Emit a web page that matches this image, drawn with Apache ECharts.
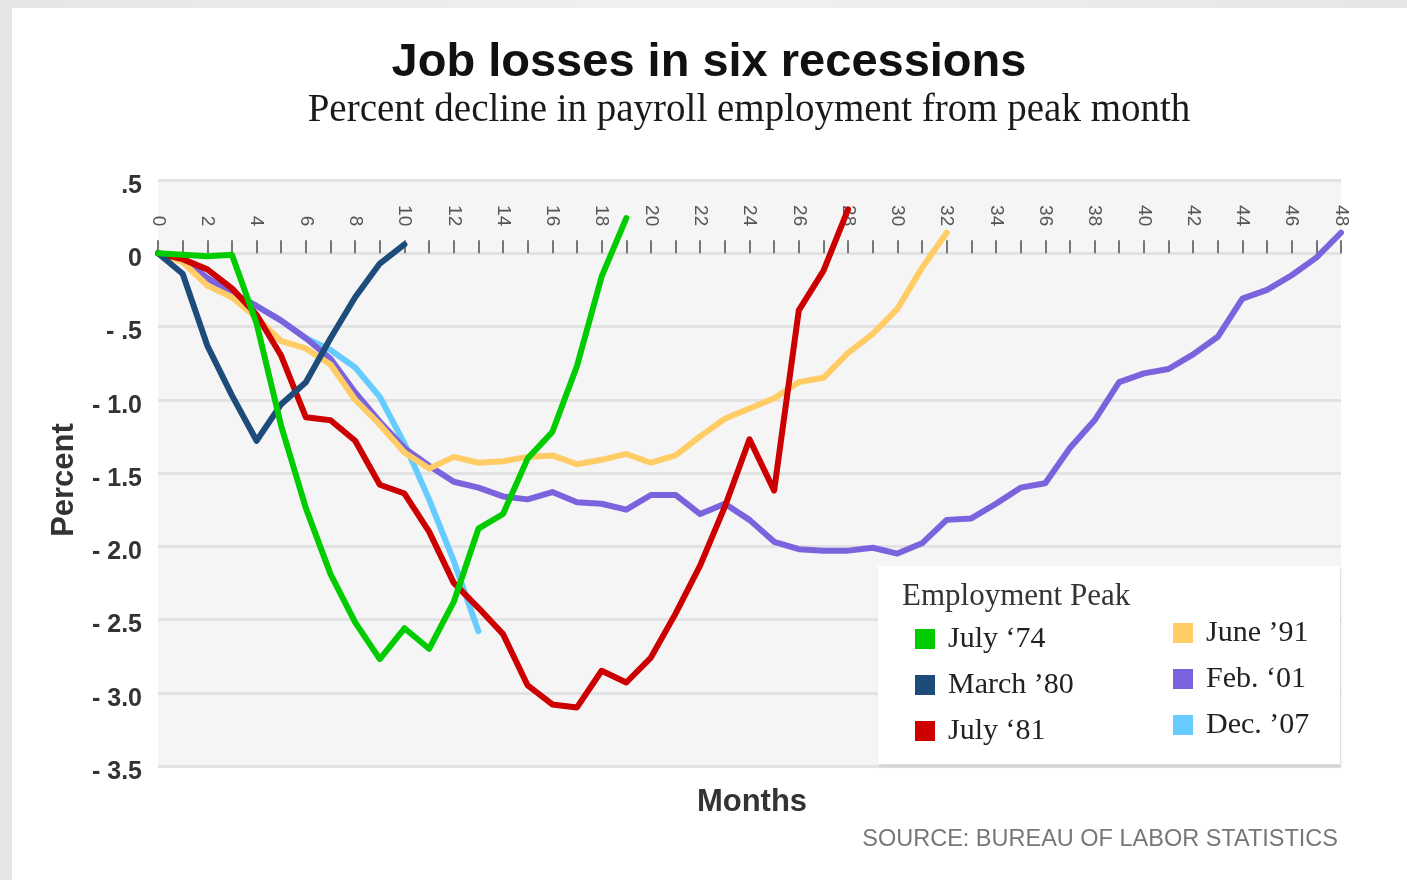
<!DOCTYPE html>
<html>
<head>
<meta charset="utf-8">
<title>Job losses in six recessions</title>
<script src="https://cdn.jsdelivr.net/npm/echarts@6/dist/echarts.min.js"></script>
<style>
  html, body { margin: 0; padding: 0; width: 1407px; height: 880px; overflow: hidden;
    background: linear-gradient(90deg, #e6e6e6 0%, #f1f1f1 50%, #e6e6e6 100%); }
  #card { position: absolute; left: 12px; top: 8px; right: 0; bottom: 0; background: #ffffff; }
  #chart { position: absolute; left: 0; top: 0; width: 1407px; height: 880px; }
</style>
</head>
<body>
<div id="card"></div>
<div id="chart"></div>
<script>
// Percent change in payroll employment, by month after each employment peak (month 0).
const july74  = [0, -0.01, -0.02, -0.01, -0.48, -1.18, -1.74, -2.19, -2.52, -2.77, -2.56, -2.70, -2.38, -1.88, -1.78, -1.40, -1.22, -0.77, -0.16, 0.24];
const march80 = [0, -0.14, -0.63, -0.97, -1.28, -1.03, -0.88, -0.58, -0.30, -0.07, 0.06];
const july81  = [0, -0.04, -0.11, -0.24, -0.42, -0.70, -1.12, -1.14, -1.28, -1.58, -1.64, -1.90, -2.25, -2.42, -2.60, -2.95, -3.08, -3.10, -2.85, -2.93, -2.76, -2.46, -2.13, -1.73, -1.27, -1.62, -0.39, -0.12, 0.30];
const june91  = [0, -0.06, -0.22, -0.30, -0.44, -0.60, -0.65, -0.76, -1.00, -1.17, -1.36, -1.47, -1.39, -1.43, -1.42, -1.39, -1.38, -1.44, -1.41, -1.37, -1.43, -1.38, -1.25, -1.13, -1.06, -0.99, -0.88, -0.85, -0.68, -0.55, -0.38, -0.10, 0.14];
const feb01   = [0, -0.04, -0.17, -0.27, -0.36, -0.46, -0.58, -0.72, -0.95, -1.15, -1.33, -1.45, -1.56, -1.60, -1.66, -1.68, -1.63, -1.70, -1.71, -1.75, -1.65, -1.65, -1.78, -1.71, -1.82, -1.97, -2.02, -2.03, -2.03, -2.01, -2.05, -1.98, -1.82, -1.81, -1.71, -1.60, -1.57, -1.33, -1.14, -0.88, -0.82, -0.79, -0.69, -0.57, -0.31, -0.25, -0.15, -0.03, 0.14];
const dec07   = [0, -0.04, -0.17, -0.27, -0.36, -0.46, -0.58, -0.66, -0.78, -0.98, -1.30, -1.68, -2.10, -2.58];

// Legend names (columns of the key)
const leftKeyNames  = ['July \u201874', 'March \u201980', 'July \u201881'];
const rightKeyNames = ['June \u201991', 'Feb. \u201801', 'Dec. \u201907'];

// Y-axis ticks and their printed labels
const yTickValues = [0.5, 0, -0.5, -1.0, -1.5, -2.0, -2.5, -3.0, -3.5];
const yTickLabels = ['.5', '0', '- .5', '- 1.0', '- 1.5', '- 2.0', '- 2.5', '- 3.0', '- 3.5'];
const monthMax = 48;

const SANS = '"Liberation Sans", Arial, Helvetica, sans-serif';
const SERIF = '"Liberation Serif", "Times New Roman", serif';

const seriesDefs = [
  // drawn bottom to top
  { name: rightKeyNames[2], data: dec07,   color: '#66ccff' },
  { name: rightKeyNames[1], data: feb01,   color: '#7b63dd' },
  { name: rightKeyNames[0], data: june91,  color: '#ffcc66' },
  { name: leftKeyNames[2],  data: july81,  color: '#cc0000' },
  { name: leftKeyNames[1],  data: march80, color: '#1d4b7a' },
  { name: leftKeyNames[0],  data: july74,  color: '#00cc00' }
];

const series = seriesDefs.map(d => ({
  name: d.name,
  type: 'line',
  data: d.data.map((v, i) => [i, v]),
  showSymbol: false,
  symbol: 'none',
  animation: false,
  itemStyle: { color: d.color },
  lineStyle: { color: d.color, width: 6, join: 'round', cap: 'round' }
}));

const legendCommon = {
  orient: 'vertical',
  icon: 'rect',
  itemWidth: 20,
  itemHeight: 20,
  itemGap: 16,
  selectedMode: false,
  z: 10,
  textStyle: { fontFamily: SERIF, fontSize: 30, color: '#222', padding: [0, 0, 0, 8] }
};

// The month axis sits on the zero line: half a unit below the top of the plot.
const plotTop = 180, plotBottom = 766;
const unitPx = (plotBottom - plotTop) / (0.5 - (-3.5));
const zeroOffset = -(0.5 - 0) * unitPx;

const chart = echarts.init(document.getElementById('chart'), null, { renderer: 'canvas' });
chart.setOption({
  backgroundColor: 'transparent',
  animation: false,
  grid: { left: 158, right: 66, top: plotTop, bottom: 880 - plotBottom, show: true, backgroundColor: '#f5f5f5', borderWidth: 0 },
  xAxis: {
    type: 'value',
    position: 'top',
    offset: zeroOffset,
    min: 0,
    max: monthMax,
    interval: 1,
    axisLine: { show: true, onZero: false, lineStyle: { color: '#e2e2e2', width: 3 } },
    axisTick: { show: true, inside: false, length: 13, lineStyle: { color: '#777', width: 2 } },
    axisLabel: {
      show: true, rotate: 90, margin: 27,
      fontFamily: SANS, fontSize: 19, color: '#555',
      formatter: v => (v % 2 === 0 ? String(v) : '')
    },
    splitLine: { show: false }
  },
  yAxis: {
    type: 'value',
    min: -3.5,
    max: 0.5,
    interval: 0.5,
    axisLine: { show: false },
    axisTick: { show: false },
    axisLabel: {
      margin: 16,
      formatter: v => {
        const i = yTickValues.findIndex(t => Math.abs(t - v) < 1e-9);
        return i >= 0 ? '{t|' + yTickLabels[i] + '}' : '';
      },
      rich: {
        t: { fontFamily: SANS, fontSize: 25, fontWeight: 'bold', color: '#333', padding: [12, 0, 0, 0] }
      }
    },
    splitLine: { show: true, lineStyle: { color: '#e2e2e2', width: 3 } }
  },
  legend: [
    Object.assign({ data: leftKeyNames,  left: 910,  top: 619 }, legendCommon),
    Object.assign({ data: rightKeyNames, left: 1168, top: 613 }, legendCommon)
  ],
  graphic: [
    { type: 'text', x: 709, y: 63, z: 5,
      style: { text: 'Job losses in six recessions', font: 'bold 47px ' + SANS, fill: '#111', align: 'center', verticalAlign: 'middle' } },
    { type: 'text', x: 749, y: 111, z: 5,
      style: { text: 'Percent decline in payroll employment from peak month', font: '39px ' + SERIF, fill: '#1a1a1a', align: 'center', verticalAlign: 'middle' } },
    { type: 'text', x: 64, y: 480, rotation: Math.PI / 2, z: 5,
      style: { text: 'Percent', font: 'bold 31px ' + SANS, fill: '#333', align: 'center', verticalAlign: 'middle' } },
    { type: 'text', x: 752, y: 802, z: 5,
      style: { text: 'Months', font: 'bold 31px ' + SANS, fill: '#333', align: 'center', verticalAlign: 'middle' } },
    { type: 'text', x: 1338, y: 840, z: 5,
      style: { text: 'SOURCE: BUREAU OF LABOR STATISTICS', font: '23.5px ' + SANS, fill: '#777', align: 'right', verticalAlign: 'middle' } },
    { type: 'rect', z: 3,
      shape: { x: 878, y: 566, width: 462, height: 198 },
      style: { fill: '#ffffff', shadowColor: 'rgba(0,0,0,0.12)', shadowBlur: 3, shadowOffsetX: 1, shadowOffsetY: 2 } },
    { type: 'text', x: 902, y: 597, z: 6,
      style: { text: 'Employment Peak', font: '31px ' + SERIF, fill: '#333', align: 'left', verticalAlign: 'middle' } }
  ],
  series: series
});
</script>
</body>
</html>
